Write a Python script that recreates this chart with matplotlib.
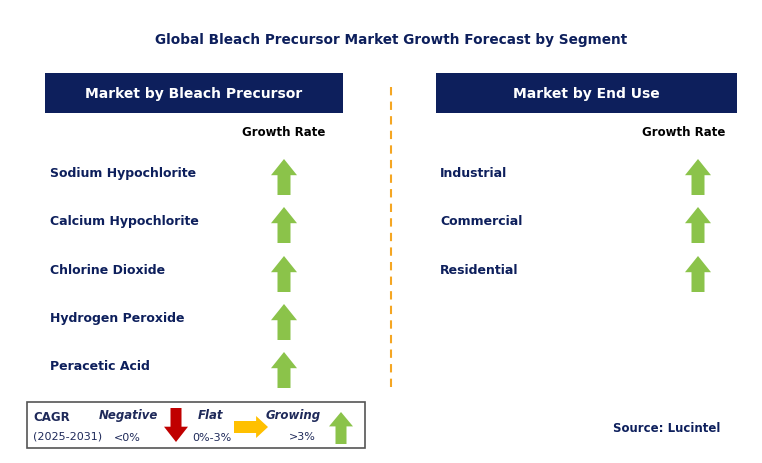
import matplotlib
matplotlib.use("Agg")
import matplotlib.pyplot as plt
from matplotlib.patches import Rectangle, Polygon

title = "Global Bleach Precursor Market Growth Forecast by Segment"
left_header = "Market by Bleach Precursor"
right_header = "Market by End Use"
left_items = ["Sodium Hypochlorite", "Calcium Hypochlorite", "Chlorine Dioxide",
              "Hydrogen Peroxide", "Peracetic Acid"]
left_growth = ["up", "up", "up", "up", "up"]
right_items = ["Industrial", "Commercial", "Residential"]
right_growth = ["up", "up", "up"]

NAVY = "#0d1f5c"
GREEN = "#8bc34a"
RED = "#c00000"
YEL = "#ffc000"
TXT = "#1f2a5a"

fig = plt.figure(figsize=(7.62, 4.64), dpi=100)
ax = fig.add_axes([0, 0, 1, 1])
ax.set_xlim(0, 762); ax.set_ylim(464, 0); ax.axis("off")

def up_arrow(cx, cy, h=36, w=26, sw=13, col=GREEN):
    top = cy - h/2; bot = cy + h/2; hb = top + h*0.45
    ax.add_patch(Polygon([(cx, top), (cx+w/2, hb), (cx+sw/2, hb), (cx+sw/2, bot),
                          (cx-sw/2, bot), (cx-sw/2, hb), (cx-w/2, hb)], closed=True,
                         color=col, lw=0))

def down_arrow(cx, cy, h=34, w=24, sw=11, col=RED):
    top = cy - h/2; bot = cy + h/2; hb = bot - h*0.45
    ax.add_patch(Polygon([(cx, bot), (cx+w/2, hb), (cx+sw/2, hb), (cx+sw/2, top),
                          (cx-sw/2, top), (cx-sw/2, hb), (cx-w/2, hb)], closed=True,
                         color=col, lw=0))

def right_arrow(cx, cy, L=34, h=22, sh=12, col=YEL):
    l = cx - L/2; r = cx + L/2; hb = r - L*0.35
    ax.add_patch(Polygon([(r, cy), (hb, cy-h/2), (hb, cy-sh/2), (l, cy-sh/2),
                          (l, cy+sh/2), (hb, cy+sh/2), (hb, cy+h/2)], closed=True,
                         color=col, lw=0))

ax.text(391, 40, title, ha="center", va="center", fontsize=9.8, fontweight="bold", color=NAVY)

for x0, x1, hdr in [(45, 343, left_header), (436, 737, right_header)]:
    ax.add_patch(Rectangle((x0, 74), x1-x0, 40, color=NAVY, lw=0))
    ax.text((x0+x1)/2, 94, hdr, ha="center", va="center", fontsize=10,
            fontweight="bold", color="white")

ax.text(284, 133, "Growth Rate", ha="center", va="center", fontsize=8.5, fontweight="bold", color="black")
ax.text(684, 133, "Growth Rate", ha="center", va="center", fontsize=8.5, fontweight="bold", color="black")

ax.plot([391, 391], [88, 392], ls=(0, (4, 3)), color="#f5a623", lw=1.5)

rows_y = [174, 222, 271, 319, 367]
for i, (name, g) in enumerate(zip(left_items, left_growth)):
    ax.text(50, rows_y[i], name, ha="left", va="center", fontsize=9, fontweight="bold", color=NAVY)
    if g == "up":
        up_arrow(284, rows_y[i] + 4)
for i, (name, g) in enumerate(zip(right_items, right_growth)):
    ax.text(440, rows_y[i], name, ha="left", va="center", fontsize=9, fontweight="bold", color=NAVY)
    if g == "up":
        up_arrow(698, rows_y[i] + 4)

# legend
ax.add_patch(Rectangle((27, 403), 338, 46, fill=False, ec="#555555", lw=1.2))
ax.text(33, 418, "CAGR", fontsize=8.5, fontweight="bold", color=TXT, va="center")
ax.text(33, 437, "(2025-2031)", fontsize=8, color=TXT, va="center")
ax.text(128, 416, "Negative", fontsize=8.5, fontweight="bold", style="italic", color=TXT, ha="center", va="center")
ax.text(127, 438, "<0%", fontsize=8, color=TXT, ha="center", va="center")
down_arrow(176, 426)
ax.text(211, 416, "Flat", fontsize=8.5, fontweight="bold", style="italic", color=TXT, ha="center", va="center")
ax.text(212, 438, "0%-3%", fontsize=8, color=TXT, ha="center", va="center")
right_arrow(251, 428)
ax.text(293, 416, "Growing", fontsize=8.5, fontweight="bold", style="italic", color=TXT, ha="center", va="center")
ax.text(302, 437, ">3%", fontsize=8, color=TXT, ha="center", va="center")
up_arrow(341, 429, h=32, w=24, sw=11)

ax.text(720, 429, "Source: Lucintel", ha="right", va="center", fontsize=8.5, fontweight="bold", color=NAVY)

fig.savefig("out.png", dpi=100)
